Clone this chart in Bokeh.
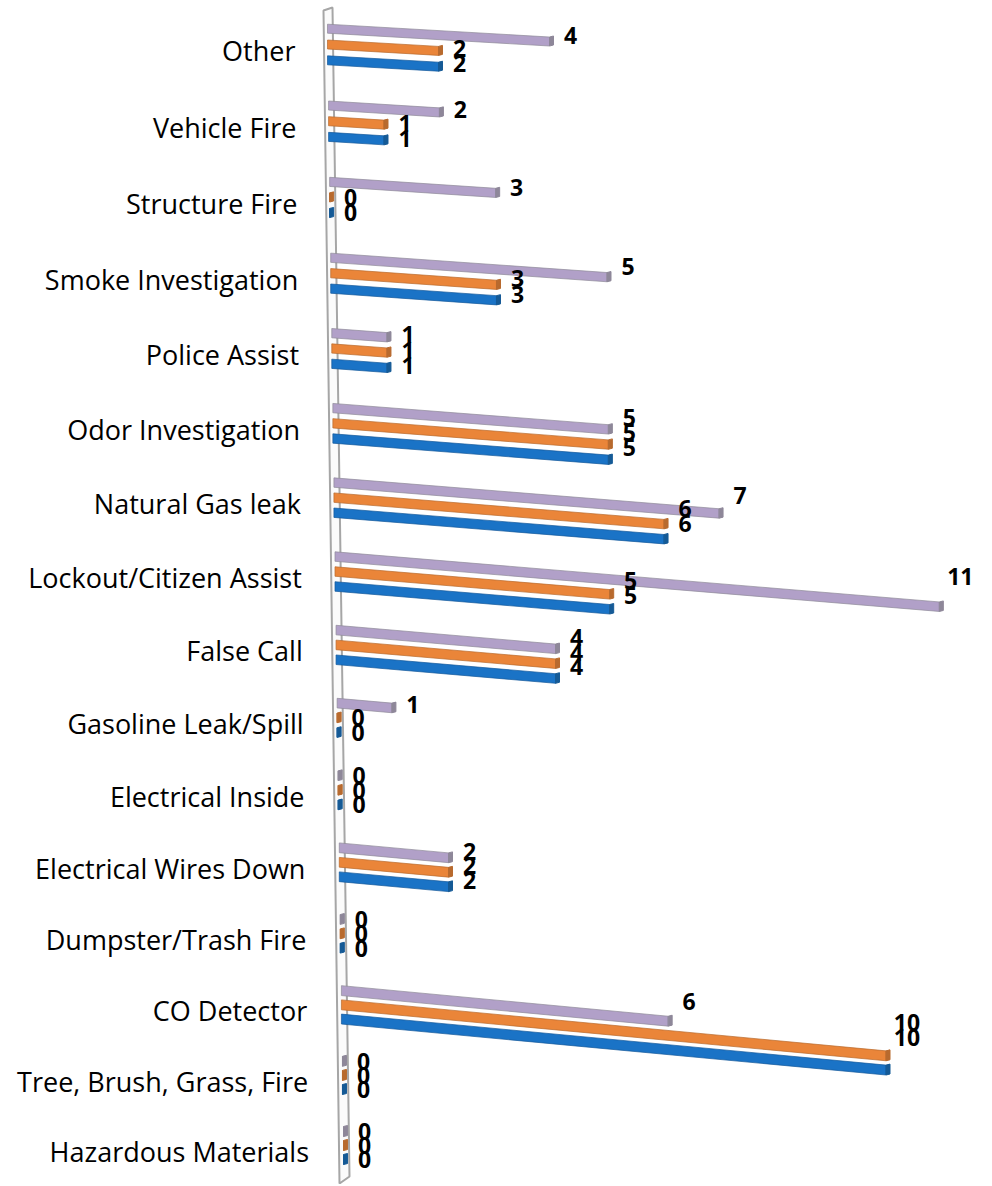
from bokeh.plotting import figure
from bokeh.models import Range1d
from bokeh.core.properties import value
from bokeh.embed import file_html
from bokeh.resources import INLINE

# ---------------- data ----------------
categories = ["Other", "Vehicle Fire", "Structure Fire", "Smoke Investigation",
              "Police Assist", "Odor Investigation", "Natural Gas leak",
              "Lockout/Citizen Assist", "False Call", "Gasoline Leak/Spill",
              "Electrical Inside", "Electrical Wires Down", "Dumpster/Trash Fire",
              "CO Detector", "Tree, Brush, Grass, Fire", "Hazardous Materials"]
series_purple = [4, 2, 3, 5, 1, 5, 7, 11, 4, 1, 0, 2, 0, 6, 0, 0]
series_orange = [2, 1, 0, 3, 1, 5, 6, 5, 4, 0, 0, 2, 0, 10, 0, 0]
series_blue = [2, 1, 0, 3, 1, 5, 6, 5, 4, 0, 0, 2, 0, 10, 0, 0]

# ---------------- layout / projection (pseudo 3-D, Excel style) ----------------
PX_UNIT = 55.0      # pixels per value unit
ROW_UNIT = 73.2     # pixels per category row
X0, Y0 = 327.0, 44.0
W, H = 990, 1184


def to_x(X):
    return (X - X0) / PX_UNIT


def to_y(Y):
    return (Y - Y0) / ROW_UNIT


def row_center(r):
    return 44 + 76.94 * r - 0.236 * r * r


def bar_geom(r, s, v):
    xl = 327 + 1.07 * r
    scale = 55.5 - 0.08 * r
    xe = xl + scale * v
    yc = row_center(r) + (s - 1) * (15.8 - 0.12 * r)
    slope = 3.2 + 0.25 * r - 0.008 * r * r
    ye = yc + slope * v
    h = (9 + 0.07 * r) / 2
    return xl, yc, xe, ye, h


series = [series_purple, series_orange, series_blue]
fills = ["#B1A0C8", "#EA8539", "#1A73C6"]
edges = ["#8F8A99", "#B8692C", "#14599A"]
caps = ["#8E8799", "#B86A2E", "#155A96"]

p = figure(width=W, height=H, output_backend="svg", toolbar_location=None,
           x_range=Range1d(to_x(0), to_x(W)),
           y_range=Range1d(to_y(H), to_y(0)),
           x_axis_location=None, y_axis_location=None, min_border=0,
           outline_line_color=None)
p.grid.visible = False
p.background_fill_color = "white"

# wall (the thin 3-D category axis)
n = len(categories)
wall_x = [to_x(323), to_x(332), to_x(349), to_x(339)]
wall_y = [to_y(10), to_y(7), to_y(1176), to_y(1183)]
p.patch(wall_x, wall_y, fill_color="#FBFBFB", line_color="#A6A6A6", line_width=2)

for s, vals in enumerate(series):
    bxs, bys, cxs, cys = [], [], [], []
    for r, v in enumerate(vals):
        xl, yc, xe, ye, h = bar_geom(r, s, v)
        bxs.append([to_x(xl), to_x(xe), to_x(xe), to_x(xl)])
        bys.append([to_y(yc - h), to_y(ye - h), to_y(ye + h), to_y(yc + h)])
        cxs.append([to_x(xe), to_x(xe + 4), to_x(xe + 4), to_x(xe)])
        cys.append([to_y(ye - h), to_y(ye - h - 1), to_y(ye + h - 1), to_y(ye + h)])
    p.patches(xs=bxs, ys=bys, fill_color=fills[s], line_color=edges[s],
              line_width=1, line_alpha=0.7)
    p.patches(xs=cxs, ys=cys, fill_color=caps[s], line_color=caps[s], line_width=1)

# value labels
lx, ly, lt = [], [], []
for s, vals in enumerate(series):
    for r, v in enumerate(vals):
        xl, yc, xe, ye, h = bar_geom(r, s, v)
        lx.append(to_x(xe + 21))
        ly.append(to_y(yc + 1.8 * v))
        lt.append(str(v))
p.text(x=lx, y=ly, text=lt, text_font=value("Open Sans"), text_font_size="23px",
       text_font_style="bold", text_color="black", text_align="center",
       text_baseline="middle")

# category labels
cx = [to_x(295 + 0.9 * r) for r in range(n)]
cy = [to_y(row_center(r) + 6) for r in range(n)]
p.text(x=cx, y=cy, text=categories, text_font=value("Open Sans"),
       text_font_size="27px", text_color="black", text_align="right",
       text_baseline="middle")

open("out.html", "w").write(file_html(p, INLINE))
